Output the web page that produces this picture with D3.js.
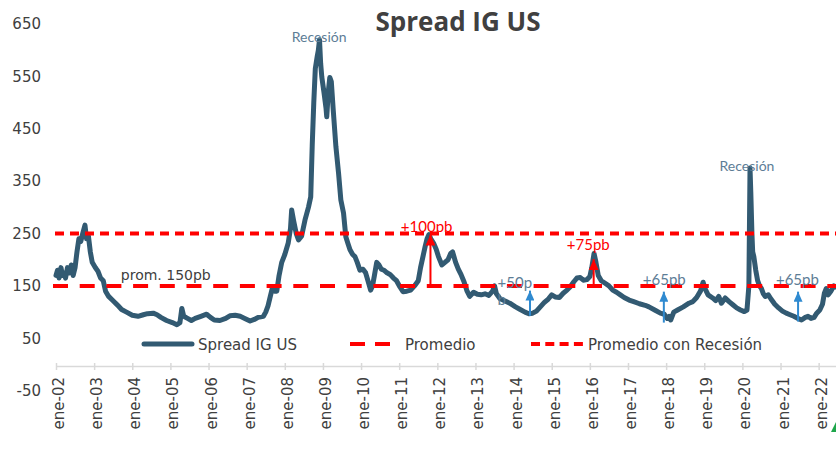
<!DOCTYPE html>
<html><head><meta charset="utf-8">
<script src="https://cdn.jsdelivr.net/npm/d3@7"></script>
<style>body{margin:0;background:#fff}svg{display:block}</style>
</head><body><svg id="c" width="836" height="450"></svg>
<script>
// ---- data (decimal years, spread in bp) ----
const years = [
2002.00,2002.04,2002.08,2002.13,2002.17,2002.21,2002.25,2002.30,2002.35,2002.40,2002.45,2002.50,2002.55,2002.60,2002.65,2002.70,2002.76,2002.80,2002.85,2002.90,2002.95,
2003.03,2003.10,2003.17,2003.24,2003.30,2003.38,2003.45,2003.55,2003.63,2003.72,2003.85,
2004.00,2004.15,2004.29,2004.40,2004.55,2004.65,2004.75,2004.90,
2005.05,2005.17,2005.25,2005.30,2005.35,2005.45,2005.55,2005.65,2005.80,2005.95,
2006.05,2006.15,2006.30,2006.45,2006.56,2006.70,2006.83,2006.95,
2007.09,2007.20,2007.30,2007.44,2007.50,2007.56,2007.62,2007.68,2007.73,2007.79,2007.85,2007.92,
2008.00,2008.09,2008.15,2008.18,2008.23,2008.30,2008.36,2008.44,2008.53,2008.62,2008.68,2008.72,2008.76,2008.80,2008.85,2008.88,2008.91,2008.94,2008.97,
2009.03,2009.08,2009.10,2009.14,2009.18,2009.22,2009.27,2009.34,2009.41,2009.47,2009.54,2009.60,2009.66,2009.71,2009.78,2009.84,2009.90,2009.97,
2010.05,2010.12,2010.20,2010.25,2010.30,2010.35,2010.41,2010.47,2010.53,2010.60,2010.68,2010.76,2010.85,2010.93,
2011.02,2011.10,2011.20,2011.30,2011.40,2011.50,2011.56,2011.62,2011.68,2011.73,2011.78,2011.83,2011.90,2011.97,
2012.03,2012.12,2012.20,2012.28,2012.35,2012.40,2012.48,2012.55,2012.62,2012.70,2012.78,2012.85,2012.95,
2013.05,2013.15,2013.25,2013.35,2013.45,2013.50,2013.55,2013.64,2013.75,2013.90,
2014.05,2014.15,2014.30,2014.40,2014.50,2014.60,2014.70,2014.80,2014.91,
2015.00,2015.09,2015.20,2015.30,2015.40,2015.48,2015.58,2015.66,2015.75,2015.83,2015.92,
2016.00,2016.05,2016.11,2016.16,2016.22,2016.30,2016.40,2016.50,2016.60,2016.70,2016.80,2016.90,
2017.03,2017.15,2017.30,2017.45,2017.55,2017.70,2017.85,2017.95,
2018.03,2018.08,2018.12,2018.20,2018.30,2018.45,2018.60,2018.70,2018.80,2018.90,2018.97,
2019.02,2019.10,2019.22,2019.30,2019.38,2019.45,2019.55,2019.65,2019.75,2019.85,2019.95,
2020.05,2020.12,2020.17,2020.20,2020.22,2020.25,2020.27,2020.30,2020.35,2020.40,2020.45,2020.50,2020.55,2020.60,2020.68,2020.75,2020.85,2020.95,
2021.05,2021.15,2021.25,2021.35,2021.45,2021.55,2021.65,2021.72,2021.80,2021.88,2021.95,
2022.03,2022.10,2022.15,2022.20,2022.25,2022.32,2022.40,2022.45
];
const spread = [
170,180,165,185,170,175,165,185,175,190,170,185,215,240,235,250,266,240,245,215,195,
185,178,165,160,140,130,125,118,112,105,100,
94,92,95,97,98,95,90,84,
80,76,80,107,92,88,84,88,92,96,
90,85,84,88,93,94,92,88,
83,86,90,92,100,112,130,148,140,140,170,195,
210,232,260,295,275,250,238,245,276,300,320,420,500,565,588,600,620,575,549,
518,490,473,520,548,540,486,416,365,314,289,244,230,219,210,206,195,180,
182,175,155,142,150,170,195,190,182,180,175,172,165,160,
148,139,140,142,150,160,185,205,225,240,248,240,232,220,
206,190,195,200,212,215,195,182,172,158,140,130,138,
134,133,135,132,140,150,135,126,122,117,
110,106,100,97,98,102,110,118,125,
133,129,128,136,142,148,158,165,166,161,162,
168,185,212,195,170,160,155,150,142,138,133,128,
123,120,116,113,110,104,98,96,
88,92,85,100,104,110,117,120,128,140,157,
145,133,127,122,130,117,127,120,114,108,104,
101,104,150,375,330,250,215,206,180,160,150,145,135,130,133,125,115,108,
102,98,95,92,88,85,90,92,88,90,98,
104,115,136,145,133,140,150,148
];
const yTicks = [-50,50,150,250,350,450,550,650];
const xTickYears = [2002,2003,2004,2005,2006,2007,2008,2009,2010,2011,2012,2013,2014,2015,2016,2017,2018,2019,2020,2021,2022];
const xTickLabels = ["ene-02","ene-03","ene-04","ene-05","ene-06","ene-07","ene-08","ene-09","ene-10","ene-11","ene-12","ene-13","ene-14","ene-15","ene-16","ene-17","ene-18","ene-19","ene-20","ene-21","ene-22"];
const avgValue = 150;        // Promedio
const avgRecessionValue = 250; // Promedio con Recesión
const recessionLabels = [{text:"Recesión", t:2008.9, v:616},{text:"Recesión", t:2020.12, v:369}];
const redArrows = [{t:2011.82, from:150, to:250},{t:2016.1, from:150, to:203}];
const redLabels = [{text:"+100pb", t:2011.72, v:253},{text:"+75pb", t:2015.96, v:218}];
const blueArrows = [{t:2014.43, from:93, to:143},{t:2017.94, from:80, to:141},{t:2021.46, from:82, to:141}];
const blueLabels = [{text:"+50p", t:2013.58, v:146},{text:"b", t:2013.58, v:114},{text:"+65pb", t:2017.39, v:152},{text:"+65pb", t:2020.88, v:152}];

const data = years.map((t,i)=>({t, v:spread[i]}));

const svg = d3.select("#c");
const x = d3.scaleLinear().domain([2002, 2022.46]).range([56, 836.2]);
const y = d3.scaleLinear().domain([-50, 650]).range([390.7, 24]);

const LINE = "#325a72", RED = "#ff0000", BLUE = "#2f8ad0", SLATE = "#5d7d96", TXT = "#404040";

// title
svg.append("text").attr("x",458).attr("y",31).attr("text-anchor","middle")
  .attr("font-family","'Open Sans'").attr("font-weight","bold").attr("font-size",26)
  .attr("fill",TXT).text("Spread IG US");

// y axis
const ya = svg.append("g").attr("transform","translate(44,0)")
  .call(d3.axisLeft(y).tickValues(yTicks).tickSize(0).tickPadding(3).tickFormat(d=>String(d)));
ya.select(".domain").remove();
ya.selectAll("text").attr("font-family","'DejaVu Sans'").attr("font-size",15).attr("fill",TXT);

// x axis at 0
const xa = svg.append("g").attr("transform",`translate(0,${y(0)+1.5})`)
  .call(d3.axisBottom(x).tickValues(xTickYears).tickSizeInner(4).tickSizeOuter(0)
    .tickFormat((d,i)=>xTickLabels[i]));
xa.select(".domain").attr("stroke","#d9d9d9").attr("stroke-width",1.5);
xa.selectAll(".tick line").attr("stroke","#d9d9d9").attr("stroke-width",1.5).attr("y1",-3).attr("y2",4);
xa.selectAll(".tick text").attr("font-family","'DejaVu Sans'").attr("font-size",15).attr("fill",TXT)
  .attr("transform","rotate(-90)").attr("text-anchor","end").attr("x",-11).attr("y",7.5).attr("dy",0);

// series
svg.append("path").datum(data).attr("fill","none").attr("stroke",LINE).attr("stroke-width",5)
  .attr("stroke-linejoin","round").attr("stroke-linecap","round")
  .attr("d", d3.line().x(d=>x(d.t)).y(d=>y(d.v)));

// average lines
svg.append("line").attr("x1",53).attr("x2",836).attr("y1",y(avgValue)).attr("y2",y(avgValue))
  .attr("stroke",RED).attr("stroke-width",4).attr("stroke-dasharray","15,11.7");
svg.append("line").attr("x1",55).attr("x2",836).attr("y1",y(avgRecessionValue)).attr("y2",y(avgRecessionValue))
  .attr("stroke",RED).attr("stroke-width",4).attr("stroke-dasharray","9,6");

// prom label
svg.append("text").attr("x",x(2003.7)).attr("y",y(161)).attr("font-family","'DejaVu Sans'")
  .attr("font-size",14).attr("fill",TXT).text("prom. 150pb");

// recession labels
svg.selectAll(".rec").data(recessionLabels).join("text").attr("x",d=>x(d.t)).attr("y",d=>y(d.v))
  .attr("text-anchor","middle").attr("font-family","Lato").attr("font-size",14).attr("fill",SLATE).text(d=>d.text);

// arrow markers
const defs = svg.append("defs");
function marker(id,color,w,h){
  defs.append("marker").attr("id",id).attr("viewBox",`0 0 ${w} ${h}`).attr("refX",w/2).attr("refY",0)
    .attr("markerWidth",w).attr("markerHeight",h).attr("markerUnits","userSpaceOnUse").attr("orient","0")
    .append("path").attr("d",`M0,${h}L${w/2},0L${w},${h}Z`).attr("fill",color);
}
marker("ra",RED,10,11);
marker("ba",BLUE,9,10);

svg.selectAll(".rarrow").data(redArrows).join("line")
  .attr("x1",d=>x(d.t)).attr("x2",d=>x(d.t)).attr("y1",d=>y(d.from)).attr("y2",d=>y(d.to)+1)
  .attr("stroke",RED).attr("stroke-width",2).attr("marker-end","url(#ra)");
svg.selectAll(".barrow").data(blueArrows).join("line")
  .attr("x1",d=>x(d.t)).attr("x2",d=>x(d.t)).attr("y1",d=>y(d.from)).attr("y2",d=>y(d.to)+1)
  .attr("stroke",BLUE).attr("stroke-width",2).attr("marker-end","url(#ba)");

svg.selectAll(".rl").data(redLabels).join("text").attr("x",d=>x(d.t)).attr("y",d=>y(d.v))
  .attr("text-anchor","middle").attr("font-family","Lato").attr("font-size",15).attr("fill",RED).text(d=>d.text);
svg.selectAll(".bl").data(blueLabels).join("text").attr("x",d=>x(d.t)).attr("y",d=>y(d.v))
  .attr("font-family","Lato").attr("font-size",15).attr("fill",SLATE).text(d=>d.text);

// legend
const lg = svg.append("g").attr("font-family","'DejaVu Sans'").attr("font-size",15).attr("fill",TXT);
lg.append("line").attr("x1",144).attr("x2",192).attr("y1",344).attr("y2",344).attr("stroke",LINE)
  .attr("stroke-width",5).attr("stroke-linecap","round");
lg.append("text").attr("x",198).attr("y",349.5).text("Spread IG US");
lg.append("line").attr("x1",350).attr("x2",390).attr("y1",344).attr("y2",344).attr("stroke",RED)
  .attr("stroke-width",4).attr("stroke-dasharray","15,10");
lg.append("text").attr("x",405).attr("y",349.5).text("Promedio");
lg.append("line").attr("x1",531).attr("x2",583).attr("y1",344).attr("y2",344).attr("stroke",RED)
  .attr("stroke-width",4).attr("stroke-dasharray","9,5.3");
lg.append("text").attr("x",588).attr("y",349.5).text("Promedio con Recesión");

// partial green marker at bottom-right edge
svg.append("path").attr("d","M831,432L836,422L841,432Z").attr("fill","#1ea64b");
</script></body></html>
